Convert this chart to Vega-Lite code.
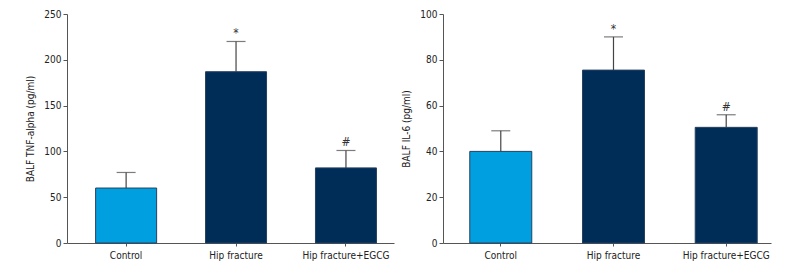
{
  "$schema": "https://vega.github.io/schema/vega-lite/v6.json",
  "background": "white",
  "padding": {"left": 25, "top": 9, "right": 5, "bottom": 5},
  "datasets": {
    "tnf": [
      {"group": "Control", "value": 60, "err": 77, "sig": ""},
      {"group": "Hip fracture", "value": 187, "err": 220, "sig": "*"},
      {"group": "Hip fracture+EGCG", "value": 82, "err": 101, "sig": "#"}
    ],
    "il6": [
      {"group": "Control", "value": 40, "err": 49, "sig": ""},
      {"group": "Hip fracture", "value": 75.5, "err": 90, "sig": "*"},
      {"group": "Hip fracture+EGCG", "value": 50.5, "err": 56, "sig": "#"}
    ]
  },
  "spacing": 7,
  "hconcat": [
    {
      "width": 327,
      "height": 229,
      "data": {"name": "tnf"},
      "encoding": {
        "x": {"field": "group", "type": "nominal", "sort": null,
              "scale": {"paddingInner": 0.445, "paddingOuter": 0.21, "align": 0.62},
              "axis": {"title": null, "labelAngle": 0, "tickSize": 3, "labelPadding": 4}}
      },
      "layer": [
        {
          "mark": {"type": "rule", "color": "#444444", "strokeWidth": 1.2},
          "encoding": {"y": {"field": "value", "type": "quantitative"}, "y2": {"field": "err"}}
        },
        {
          "mark": {"type": "tick", "color": "#444444", "thickness": 1.2, "size": 19},
          "encoding": {"y": {"field": "err", "type": "quantitative"}}
        },
        {
          "mark": {"type": "bar", "stroke": "#27405e", "strokeWidth": 1},
          "encoding": {
            "y": {"field": "value", "type": "quantitative",
                  "scale": {"domain": [0, 250], "nice": false},
                  "axis": {"title": "BALF TNF-alpha (pg/ml)", "values": [0, 50, 100, 150, 200, 250], "tickSize": 4, "titlePadding": 8}},
            "color": {"field": "group", "type": "nominal", "legend": null,
                      "scale": {"domain": ["Control", "Hip fracture", "Hip fracture+EGCG"], "range": ["#009fe0", "#002c58", "#002c58"]}}
          }
        },
        {
          "mark": {"type": "text", "dy": -8, "fontSize": 12, "color": "#333333"},
          "encoding": {"y": {"field": "err", "type": "quantitative"}, "text": {"field": "sig"}}
        }
      ]
    },
    {
      "width": 328,
      "height": 229,
      "data": {"name": "il6"},
      "encoding": {
        "x": {"field": "group", "type": "nominal", "sort": null,
              "scale": {"paddingInner": 0.45, "paddingOuter": 0.18, "align": 0.66},
              "axis": {"title": null, "labelAngle": 0, "tickSize": 3, "labelPadding": 4}}
      },
      "layer": [
        {
          "mark": {"type": "rule", "color": "#444444", "strokeWidth": 1.2},
          "encoding": {"y": {"field": "value", "type": "quantitative"}, "y2": {"field": "err"}}
        },
        {
          "mark": {"type": "tick", "color": "#444444", "thickness": 1.2, "size": 19},
          "encoding": {"y": {"field": "err", "type": "quantitative"}}
        },
        {
          "mark": {"type": "bar", "stroke": "#27405e", "strokeWidth": 1},
          "encoding": {
            "y": {"field": "value", "type": "quantitative",
                  "scale": {"domain": [0, 100], "nice": false},
                  "axis": {"title": "BALF IL-6 (pg/ml)", "values": [0, 20, 40, 60, 80, 100], "tickSize": 4, "titlePadding": 8}},
            "color": {"field": "group", "type": "nominal", "legend": null,
                      "scale": {"domain": ["Control", "Hip fracture", "Hip fracture+EGCG"], "range": ["#009fe0", "#002c58", "#002c58"]}}
          }
        },
        {
          "mark": {"type": "text", "dy": -8, "fontSize": 12, "color": "#333333"},
          "encoding": {"y": {"field": "err", "type": "quantitative"}, "text": {"field": "sig"}}
        }
      ]
    }
  ],
  "resolve": {"scale": {"y": "independent", "color": "independent"}},
  "config": {
    "font": "DejaVu Sans Condensed, Roboto, sans-serif",
    "view": {"stroke": null},
    "axis": {
      "grid": false,
      "domainColor": "#555555",
      "tickColor": "#555555",
      "labelColor": "#222222",
      "titleColor": "#222222",
      "labelFont": "DejaVu Sans Condensed, Roboto, sans-serif",
      "titleFont": "DejaVu Sans Condensed, Roboto, sans-serif",
      "labelFontSize": 10,
      "titleFontSize": 10,
      "titleFontWeight": "normal"
    },
    "text": {"font": "DejaVu Sans Condensed, Roboto, sans-serif"}
  }
}
